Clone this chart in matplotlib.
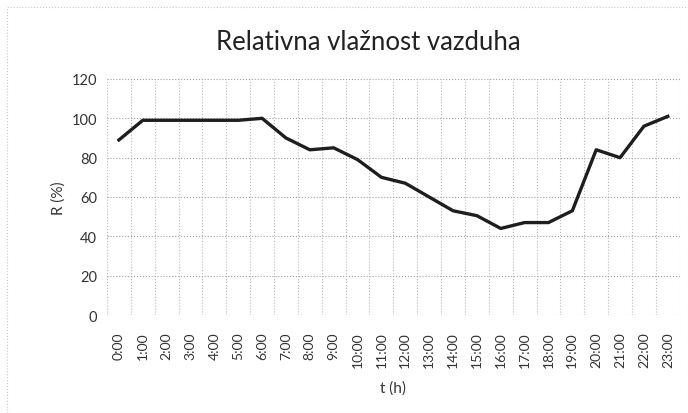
import matplotlib.pyplot as plt
import numpy as np
from matplotlib.patches import Rectangle

# Podaci: relativna vlaznost po satima
hours = [f"{h}:00" for h in range(24)]
humidity = [89, 99, 99, 99, 99, 99, 100, 90, 84, 85, 79, 70,
            67, 60, 53, 50.5, 44, 47, 47, 53, 84, 80, 96, 101]

plt.rcParams['font.family'] = ['Lato', 'DejaVu Sans']

fig = plt.figure(figsize=(6.88, 4.14), dpi=100)
ax = fig.add_axes([0.1555, 0.2367, 0.8325, 0.5701])

x = np.arange(len(hours))
ax.plot(x, humidity, color='#1e1e1e', linewidth=2.4, solid_joinstyle='round')

ax.set_xlim(-0.5, len(hours) - 0.5)
ax.set_ylim(0, 120)
ax.set_yticks(np.arange(0, 121, 20))
ax.set_xticks(x)
ax.set_xticklabels(hours, rotation=90, fontsize=10, color='#333333')
ax.set_xticks(np.arange(-0.5, len(hours), 1), minor=True)
ax.tick_params(axis='y', labelsize=10.5, colors='#333333', length=0, pad=7)
ax.tick_params(axis='x', which='both', length=0, pad=12)

# Mreza - tackaste linije kao u Excelu
ax.grid(True, axis='y', which='major', linestyle=':', color='#a0a0a0', linewidth=0.8)
ax.grid(True, axis='x', which='minor', linestyle=':', color='#b8b8b8', linewidth=0.8)
ax.set_axisbelow(True)
for s in ax.spines.values():
    s.set_visible(False)

fig.text(0.535, 0.898, 'Relativna vlažnost vazduha', fontsize=18.5,
         color='#222222', ha='center', va='center')
ax.set_xlabel('t (h)', fontsize=11, color='#333333', labelpad=9)
ax.set_ylabel('R (%)', fontsize=11, color='#333333', labelpad=4)

# okvir grafikona
fig.patches.append(Rectangle((0.01, 0.0), 0.99, 0.98, transform=fig.transFigure,
                             fill=False, edgecolor='#c8c8c8', linestyle=':', linewidth=0.8))

fig.savefig('out.png', dpi=100)
